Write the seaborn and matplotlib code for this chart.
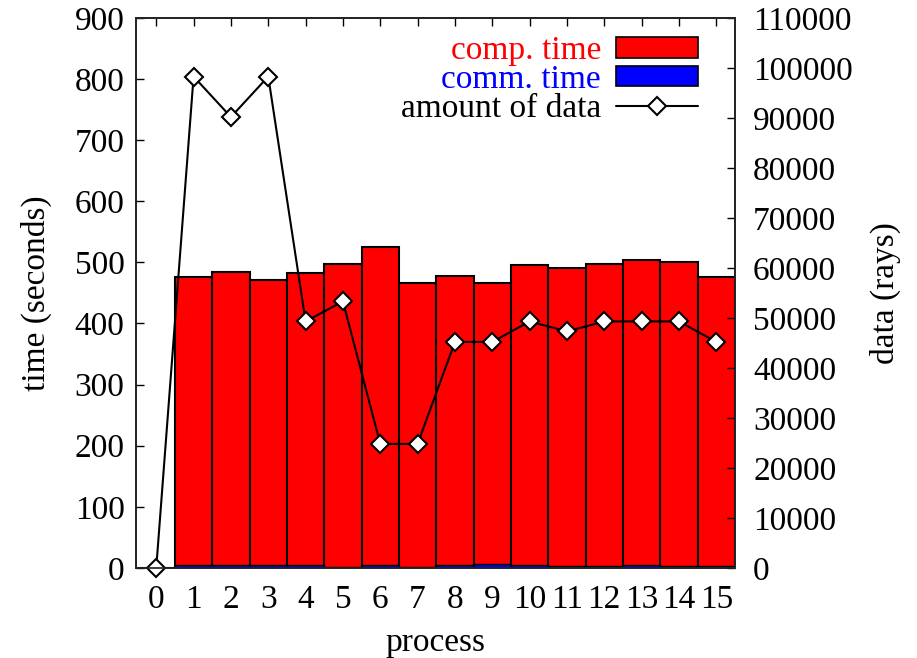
import matplotlib
matplotlib.use("Agg")
import matplotlib.pyplot as plt
import seaborn as sns
import pandas as pd
from matplotlib.patches import Patch
from matplotlib.lines import Line2D

processes = list(range(16))
comm_time = [0, 5, 5, 5, 5, 1, 4, 1, 5, 7, 5, 3, 3, 4, 3, 3]
total_time = [0, 476, 485, 471, 482, 498, 526, 467, 478, 467, 496, 491, 498, 504, 500, 476]
data_rays = [0, 98300, 90200, 98300, 49300, 53300, 24800, 24800, 45200, 45200,
             49300, 47300, 49300, 49300, 49300, 45200]

sns.set_theme(style="white")
plt.rcParams["font.family"] = ["Liberation Serif", "DejaVu Serif"]
plt.rcParams["font.size"] = 24
plt.rcParams["text.color"] = "black"
plt.rcParams["axes.labelcolor"] = "black"
plt.rcParams["xtick.color"] = "black"
plt.rcParams["ytick.color"] = "black"

df = pd.DataFrame({"process": processes, "comm": comm_time,
                   "total": total_time, "data": data_rays})

fig = plt.figure(figsize=(9.17, 6.58), dpi=100)
ax = fig.add_axes([0.148, 0.137, 0.6535, 0.8356])

sns.barplot(data=df, x="process", y="total", color="#ff0000", width=1.0,
            edgecolor="black", linewidth=1.5, saturation=1, ax=ax, native_scale=True)
sns.barplot(data=df, x="process", y="comm", color="#0000ff", width=1.0,
            edgecolor="black", linewidth=1.0, saturation=1, ax=ax, native_scale=True)

ax.set_xlim(-0.55, 15.5)
ax.set_ylim(0, 900)
ax.set_yticks(range(0, 901, 100))
ax.set_xticks(processes)
ax.set_xticklabels([str(p) for p in processes])
ax.set_xlabel("process", fontsize=24, labelpad=9)
ax.set_ylabel("time (seconds)", fontsize=24, labelpad=16)
ax.tick_params(axis="x", direction="in", length=6, width=1, labelsize=24, pad=12, top=True)
ax.tick_params(axis="y", direction="in", length=6, width=1, labelsize=24, pad=8)
for s in ax.spines.values():
    s.set_color("black")
    s.set_linewidth(1.2)

ax2 = ax.twinx()
sns.lineplot(data=df, x="process", y="data", color="black", marker="D", markersize=9,
             markerfacecolor="white", markeredgecolor="black", markeredgewidth=1.5,
             linewidth=1.5, ax=ax2)
ax2.set_ylim(0, 110000)
ax2.set_yticks(range(0, 110001, 10000))
ax2.set_ylabel("data (rays)", fontsize=24, labelpad=12)
ax2.tick_params(axis="y", direction="in", length=6, width=1, labelsize=24, pad=13)
ax2.set_xlim(-0.55, 15.5)
for l in ax2.lines:
    l.set_clip_on(False)

handles = [Patch(facecolor="#ff0000", edgecolor="black", linewidth=1.2),
           Patch(facecolor="#0000ff", edgecolor="black", linewidth=1.2),
           Line2D([0], [0], color="black", marker="D", markersize=9, markerfacecolor="white",
                  markeredgewidth=1.5, linewidth=1.5)]
labels = ["comp. time", "comm. time", "amount of data"]
leg = ax2.legend(handles, labels, loc="upper right", frameon=False, markerfirst=False,
                 fontsize=24, handlelength=2.45, handleheight=0.55, labelspacing=-0.05,
                 borderaxespad=0.0, handletextpad=0.45, bbox_to_anchor=(0.96, 0.992))
for t, c in zip(leg.get_texts(), ["#ff0000", "#0000ff", "black"]):
    t.set_color(c)

fig.savefig("out.png", dpi=100)
